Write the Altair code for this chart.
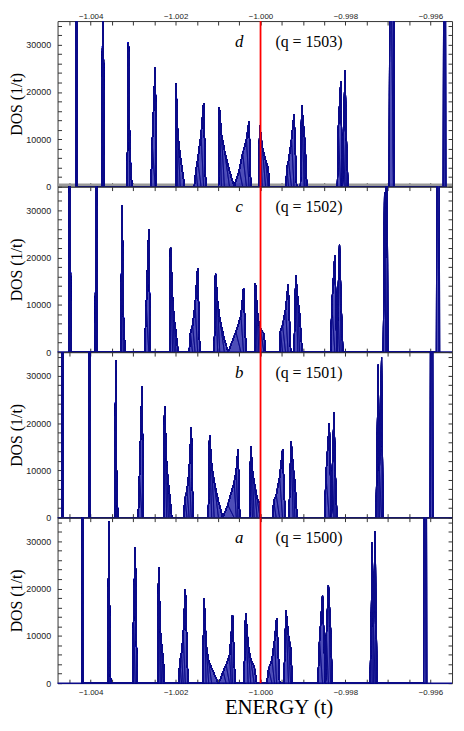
import altair as alt
import pandas as pd

X_DOMAIN = [-1.00478, -0.99549]
Y_DOMAIN = [0, 35000]
W, H = 398, 167

letters = ["d", "c", "b", "a"]
q_values = [1503, 1502, 1501, 1500]

# ---- panel d (q = 1503): outline vertices (energy, DOS)
d_energy = [-1.00435, -1.00433, -1.00431,
            -1.00373, -1.00371, -1.00369,
            -1.00314, -1.00311, -1.00308, -1.00303,
            -1.00258, -1.00255, -1.00248, -1.00245,
            -1.00200, -1.00199, -1.00195, -1.00189, -1.00179,
            -1.00156, -1.00152, -1.00148, -1.00140, -1.00134, -1.00129,
            -1.00099, -1.00097, -1.00092, -1.00085, -1.00073, -1.00062,
            -1.00050, -1.00042, -1.00033, -1.00027, -1.00023,
            -1.00004, -1.00002, -0.99996, -0.99988, -0.99982, -0.99979,
            -0.99940, -0.99938, -0.99934, -0.99927, -0.99921, -0.99915,
            -0.99906, -0.99903, -0.99897, -0.99895, -0.99891,
            -0.99819, -0.99817, -0.99811, -0.99807, -0.99805, -0.99801, -0.99798, -0.99794,
            -0.99697, -0.99695, -0.99687, -0.99685,
            -0.99570, -0.99568, -0.99565, -0.99563]
d_dos = [0, 70000, 0,
         0, 70000, 0,
         0, 30400, 8000, 0,
         0, 9000, 25200, 0,
         0, 21700, 11000, 6400, 0,
         0, 3500, 5700, 11000, 17550, 0,
         0, 16650, 11000, 7700, 3300, 0,
         3500, 7000, 10000, 13800, 0,
         0, 13000, 8500, 5600, 4000, 0,
         0, 4000, 5500, 10000, 15300, 0,
         0, 17100, 11000, 9000, 0,
         0, 12000, 22300, 0, 10000, 24600, 11000, 0,
         0, 70000, 70000, 0,
         0, 70000, 70000, 0]

# ---- panel c (q = 1502)
c_energy = [-1.00451, -1.00449, -1.00447,
            -1.00389, -1.00387, -1.00385,
            -1.00329, -1.00326, -1.00323, -1.00319,
            -1.00273, -1.00269, -1.00263, -1.00260,
            -1.00214, -1.00212, -1.00207, -1.00203, -1.00199, -1.00194,
            -1.00168, -1.00165, -1.00160, -1.00154, -1.00148, -1.00143,
            -1.00109, -1.00106, -1.00101, -1.00096, -1.00085, -1.00076,
            -1.00058, -1.00046, -1.00040, -1.00034,
            -1.00014, -1.00012, -1.00008, -1.00004, -1.00000, -0.99992, -0.99988,
            -0.99955, -0.99953, -0.99948, -0.99941, -0.99935, -0.99929,
            -0.99921, -0.99917, -0.99912, -0.99908, -0.99902,
            -0.99835, -0.99832, -0.99825, -0.99820, -0.99818, -0.99814, -0.99810, -0.99806,
            -0.99711, -0.99708, -0.99705, -0.99703, -0.99700,
            -0.99586, -0.99584, -0.99580, -0.99578]
c_dos = [0, 70000, 0,
         0, 70000, 0,
         0, 31100, 8000, 0,
         0, 9800, 26000, 0,
         0, 22200, 11000, 6700, 4000, 0,
         0, 4000, 5700, 10000, 17700, 0,
         0, 16600, 10500, 7000, 2600, 0,
         4300, 7700, 13400, 0,
         0, 14500, 9000, 6000, 5000, 3900, 0,
         0, 4500, 5700, 9000, 14300, 0,
         0, 16200, 11000, 8100, 0,
         0, 10000, 20500, 0, 10000, 22800, 10000, 0,
         0, 33700, 20000, 70000, 0,
         0, 70000, 70000, 0]

# ---- panel b (q = 1501)
b_energy = [-1.00468, -1.00466, -1.00464,
            -1.00405, -1.00403, -1.00401,
            -1.00343, -1.00341, -1.00339, -1.00336,
            -1.00288, -1.00285, -1.00279, -1.00276,
            -1.00228, -1.00226, -1.00221, -1.00217, -1.00213, -1.00209,
            -1.00181, -1.00178, -1.00173, -1.00168, -1.00163, -1.00159,
            -1.00123, -1.00120, -1.00115, -1.00109, -1.00099, -1.00089,
            -1.00077, -1.00062, -1.00057, -1.00053, -1.00049,
            -1.00026, -1.00023, -1.00019, -1.00015, -1.00008, -1.00001, -1.00000,
            -0.99971, -0.99969, -0.99963, -0.99955, -0.99948, -0.99942,
            -0.99933, -0.99928, -0.99923, -0.99919, -0.99914,
            -0.99849, -0.99846, -0.99838, -0.99833, -0.99831, -0.99827, -0.99824, -0.99820,
            -0.99728, -0.99725, -0.99723, -0.99720, -0.99715, -0.99713, -0.99711,
            -0.99601, -0.99599, -0.99595, -0.99593]
b_dos = [0, 70000, 0,
         0, 70000, 0,
         0, 33200, 8000, 0,
         0, 8900, 27700, 0,
         0, 23600, 11000, 7200, 4000, 0,
         0, 4000, 5800, 10000, 19100, 0,
         0, 17300, 11000, 7500, 3400, 0,
         2700, 7500, 10000, 14400, 0,
         0, 15000, 10000, 7500, 4100, 2800, 0,
         0, 3500, 4800, 8500, 14400, 0,
         0, 16200, 10500, 7500, 0,
         0, 8900, 20000, 0, 10000, 22200, 10000, 0,
         0, 18000, 32300, 10000, 33900, 15000, 0,
         0, 70000, 70000, 0]

# ---- panel a (q = 1500)
a_energy = [-1.00421, -1.00420, -1.00419, -1.00417,
            -1.00360, -1.00357, -1.00355, -1.00353,
            -1.00301, -1.00299, -1.00295, -1.00291,
            -1.00242, -1.00240, -1.00236, -1.00233, -1.00229, -1.00226,
            -1.00193, -1.00190, -1.00186, -1.00182, -1.00177, -1.00171,
            -1.00136, -1.00133, -1.00128, -1.00122, -1.00115, -1.00100,
            -1.00098, -1.00088, -1.00081, -1.00073, -1.00069, -1.00066, -1.00060,
            -1.00039, -1.00035, -1.00029, -1.00023, -1.00015, -1.00009,
            -0.99985, -0.99981, -0.99973, -0.99967, -0.99962, -0.99955,
            -0.99945, -0.99940, -0.99934, -0.99929, -0.99925,
            -0.99865, -0.99861, -0.99854, -0.99847, -0.99845, -0.99840, -0.99835, -0.99831,
            -0.99742, -0.99739, -0.99737, -0.99734, -0.99730, -0.99728, -0.99725,
            -0.99616, -0.99614, -0.99610, -0.99608]
a_dos = [0, 19000, 70000, 0,
         0, 34100, 8000, 0,
         0, 14000, 28700, 0,
         0, 24500, 11000, 8100, 5000, 0,
         0, 4500, 6400, 10000, 19800, 0,
         0, 18000, 8000, 4600, 3200, 0,
         0, 2500, 3900, 6000, 10000, 14400, 0,
         0, 14800, 8000, 5000, 3600, 0,
         0, 3000, 5000, 9000, 13700, 0,
         0, 15300, 10000, 7400, 0,
         0, 9100, 18500, 0, 10000, 20700, 11500, 0,
         0, 15000, 29800, 12000, 32100, 15000, 0,
         0, 70000, 70000, 0]

x_tick_values = [-1.0045, -1.004, -1.0035, -1.003, -1.0025, -1.002, -1.0015,
                 -1.001, -1.0005, -1.0, -0.9995, -0.999, -0.9985, -0.998,
                 -0.9975, -0.997, -0.9965, -0.996]
y_tick_values = [0, 2000, 4000, 6000, 8000, 10000, 12000, 14000, 16000, 18000,
                 20000, 22000, 24000, 26000, 28000, 30000, 32000, 34000]
fermi_energy = [-1.0]
label_energy = [-1.0005]
qlabel_energy = [-0.99965]
label_dos = [30600]

XLAB = "abs(datum.value*500 - round(datum.value*500)) < 0.01 ? format(datum.value, '.3f') : ''"
YLAB = "datum.value % 10000 == 0 ? format(datum.value, 'd') : ''"

SANS = "Liberation Sans"
SERIF = "Liberation Serif"
FILL = "#3434ae"
EDGE = "#0c0c8a"


def panel(energy, dos, letter, q, top_labels=False, bottom_labels=False, grey_base=False):
    df = pd.DataFrame({"E": energy, "DOS": dos, "i": list(range(len(energy)))})
    frame_df = pd.DataFrame({"E": X_DOMAIN, "DOS": Y_DOMAIN})
    xs = alt.Scale(domain=X_DOMAIN, nice=False, zero=False)
    ys = alt.Scale(domain=Y_DOMAIN, nice=False)
    frame = alt.Chart(frame_df)

    if bottom_labels:
        x_axis = alt.Axis(orient="bottom", values=x_tick_values, labelExpr=XLAB,
                          ticks=False, domain=False, grid=False,
                          labelFont=SANS, labelFontSize=8, labelColor="#222",
                          labelPadding=5, title="ENERGY (t)", titleFont=SERIF,
                          titleFontSize=21, titleFontWeight="normal",
                          titleColor="#000", titlePadding=1, titleX=223)
    else:
        x_axis = None
    y_axis = alt.Axis(orient="left", values=y_tick_values, labelExpr=YLAB,
                      ticks=False, domain=False, grid=False,
                      labelFont=SANS, labelFontSize=9, labelColor="#222",
                      labelPadding=7, title="DOS (1/t)", titleFont=SERIF,
                      titleFontSize=16, titleFontWeight="normal",
                      titleColor="#000", titlePadding=1)

    base_df = pd.DataFrame({"y": [0]})
    if grey_base:
        baseline = alt.Chart(base_df).mark_rule(color="#9a9a9a", strokeWidth=3, yOffset=-1.5).encode(
            y=alt.Y("y:Q", scale=ys, axis=None))
    else:
        baseline = alt.Chart(base_df).mark_rule(color=EDGE, strokeWidth=1.5).encode(
            y=alt.Y("y:Q", scale=ys, axis=None))

    area = alt.Chart(df).mark_area(clip=True, fill=FILL, fillOpacity=0.88, stroke=EDGE,
                                   strokeWidth=1).encode(
        x=alt.X("E:Q", scale=xs, axis=x_axis),
        y=alt.Y("DOS:Q", scale=ys, axis=y_axis),
        order="i:Q")

    red = alt.Chart(pd.DataFrame({"x": fermi_energy})).mark_rule(
        color="#ff0000", strokeWidth=1.8).encode(x=alt.X("x:Q", scale=xs, axis=None))

    tl = alt.Chart(pd.DataFrame({"x": label_energy, "y": label_dos, "t": [letter]})).mark_text(
        font=SERIF, fontSize=17, fontStyle="italic", align="center", baseline="middle",
        color="#000").encode(
        x=alt.X("x:Q", scale=xs, axis=None), y=alt.Y("y:Q", scale=ys, axis=None), text="t:N")
    ql = alt.Chart(pd.DataFrame({"x": qlabel_energy, "y": label_dos, "t": [f"(q = {q})"]})).mark_text(
        font=SERIF, fontSize=16, align="left", baseline="middle", color="#000").encode(
        x=alt.X("x:Q", scale=xs, axis=None), y=alt.Y("y:Q", scale=ys, axis=None), text="t:N")

    tick_common = dict(labels=False, domain=False, grid=False, ticks=True, tickSize=4,
                       tickColor="#333", tickWidth=1, title=None)
    t1 = frame.mark_point(opacity=0).encode(
        x=alt.X("E:Q", scale=xs, axis=alt.Axis(orient="top", offset=-H, values=x_tick_values, **tick_common)),
        y=alt.Y("DOS:Q", scale=ys, axis=alt.Axis(orient="right", offset=-W, values=y_tick_values, **tick_common)))
    t2 = frame.mark_point(opacity=0).encode(
        x=alt.X("E:Q", scale=xs, axis=alt.Axis(orient="bottom", offset=-H, values=x_tick_values, **tick_common)),
        y=alt.Y("DOS:Q", scale=ys, axis=alt.Axis(orient="left", offset=-W, values=y_tick_values, **tick_common)))

    layers = [baseline, area, red, tl, ql, t1, t2]
    if top_labels:
        t3 = frame.mark_point(opacity=0).encode(
            x=alt.X("E:Q", scale=xs, axis=alt.Axis(orient="top", values=x_tick_values, labelExpr=XLAB,
                                                    ticks=False, domain=False, grid=False,
                                                    labelFont=SANS, labelFontSize=8, labelColor="#222",
                                                    labelPadding=1, title=None)),
            y=alt.Y("DOS:Q", scale=ys, axis=None))
        layers.append(t3)

    return alt.layer(*layers).resolve_axis(x="independent", y="independent").properties(width=W, height=H)


pd_ = panel(d_energy, d_dos, letters[0], q_values[0], top_labels=True, grey_base=True)
pc = panel(c_energy, c_dos, letters[1], q_values[1])
pb = panel(b_energy, b_dos, letters[2], q_values[2])
pa = panel(a_energy, a_dos, letters[3], q_values[3], bottom_labels=True)

chart = alt.vconcat(pd_, pc, pb, pa, spacing=0, bounds="flush", padding=0).configure_view(
    stroke="#333", strokeWidth=1)

chart.save("out.html", embed_options={"renderer": "svg", "actions": False})
